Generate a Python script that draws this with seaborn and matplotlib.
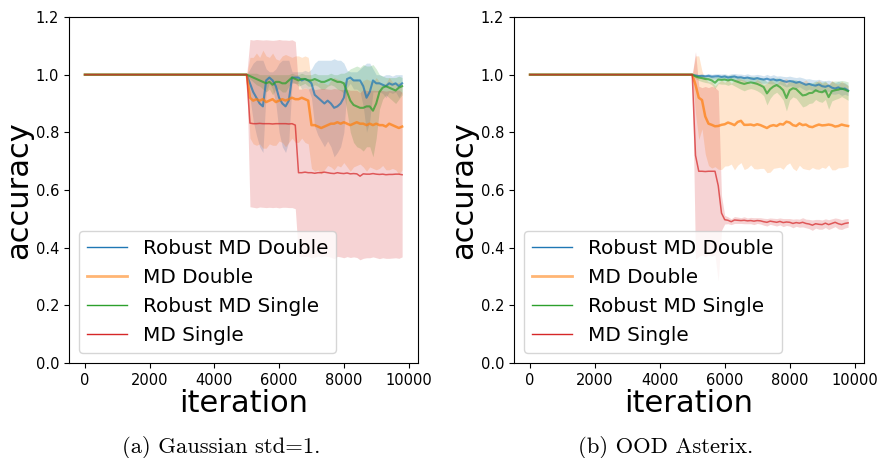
import numpy as np
import matplotlib
matplotlib.use("Agg")
import matplotlib.pyplot as plt
from matplotlib.lines import Line2D
import seaborn as sns

# ---------------- data ----------------
# iteration grid: start point, then every 100 iterations from 5000 to 9800
iterations = np.concatenate([[0], np.arange(5000, 9801, 100)])

series_names = ["Robust MD Double", "MD Double", "Robust MD Single", "MD Single"]
series_colors = ["#1f77b4", "#ff7f0e", "#2ca02c", "#d62728"]

# ---- (a) Gaussian std=1. : mean accuracy ----
a_robust_double = [1.0, 1.0,
    0.97, 0.94, 0.92, 0.90, 0.89, 0.98, 0.99, 0.98, 0.96, 0.92,
    0.90, 0.89, 0.91, 0.99, 0.99, 0.99, 0.98, 0.985, 0.98, 0.97,
    0.93, 0.92, 0.91, 0.90, 0.91, 0.90, 0.885, 0.89, 0.90, 0.92,
    0.985, 0.99, 0.98, 0.98, 0.98, 0.96, 0.92, 0.94, 0.98, 0.97,
    0.97, 0.965, 0.96, 0.97, 0.965, 0.97, 0.96, 0.97]
a_md_double = [1.0, 1.0,
    0.92, 0.91, 0.915, 0.91, 0.915, 0.905, 0.91, 0.915, 0.905, 0.91,
    0.915, 0.91, 0.915, 0.92, 0.915, 0.915, 0.92, 0.915, 0.91, 0.825,
    0.825, 0.82, 0.815, 0.82, 0.825, 0.83, 0.83, 0.835, 0.83, 0.835,
    0.83, 0.825, 0.83, 0.835, 0.83, 0.83, 0.825, 0.83, 0.825, 0.83,
    0.825, 0.825, 0.82, 0.83, 0.825, 0.82, 0.815, 0.82]
a_robust_single = [1.0, 1.0,
    0.995, 0.99, 0.985, 0.98, 0.975, 0.97, 0.975, 0.965, 0.975, 0.975,
    0.97, 0.97, 0.98, 0.99, 0.985, 0.98, 0.985, 0.985, 0.98, 0.98,
    0.985, 0.98, 0.975, 0.975, 0.98, 0.985, 0.98, 0.975, 0.975, 0.97,
    0.94, 0.91, 0.895, 0.89, 0.885, 0.885, 0.89, 0.89, 0.875, 0.90,
    0.94, 0.955, 0.96, 0.955, 0.95, 0.945, 0.955, 0.96]
a_md_single = [1.0, 1.0,
    0.832, 0.83, 0.83, 0.831, 0.83, 0.83, 0.83, 0.829, 0.83, 0.83,
    0.83, 0.83, 0.829, 0.83, 0.825, 0.66, 0.66, 0.662, 0.66, 0.66,
    0.658, 0.66, 0.66, 0.662, 0.66, 0.658, 0.657, 0.66, 0.658, 0.657,
    0.659, 0.656, 0.657, 0.656, 0.648, 0.656, 0.655, 0.655, 0.657, 0.655,
    0.654, 0.655, 0.653, 0.654, 0.654, 0.655, 0.655, 0.653]

# ---- (a) spread (half width of shaded band) ----
a_robust_double_sd = [0, 0,
    0.05, 0.10, 0.13, 0.15, 0.16, 0.04, 0.02, 0.03, 0.06, 0.12,
    0.15, 0.16, 0.14, 0.02, 0.02, 0.02, 0.03, 0.03, 0.03, 0.05,
    0.11, 0.13, 0.14, 0.15, 0.14, 0.15, 0.17, 0.16, 0.15, 0.12,
    0.03, 0.02, 0.03, 0.03, 0.04, 0.07, 0.12, 0.10, 0.04, 0.03,
    0.03, 0.03, 0.04, 0.03, 0.03, 0.03, 0.04, 0.03]
a_md_double_sd = [0, 0,
    0.14, 0.15, 0.16, 0.15, 0.17, 0.16, 0.15, 0.16, 0.15, 0.14,
    0.15, 0.16, 0.15, 0.14, 0.15, 0.15, 0.14, 0.15, 0.15, 0.15,
    0.16, 0.15, 0.16, 0.15, 0.14, 0.15, 0.16, 0.15, 0.15, 0.14,
    0.15, 0.16, 0.15, 0.15, 0.14, 0.15, 0.16, 0.15, 0.15, 0.16,
    0.15, 0.14, 0.15, 0.16, 0.15, 0.15, 0.16, 0.15]
a_robust_single_sd = [0, 0,
    0.01, 0.015, 0.02, 0.02, 0.025, 0.03, 0.025, 0.035, 0.025, 0.025,
    0.03, 0.03, 0.02, 0.015, 0.015, 0.02, 0.02, 0.015, 0.02, 0.02,
    0.02, 0.02, 0.025, 0.025, 0.02, 0.02, 0.02, 0.025, 0.03, 0.035,
    0.07, 0.11, 0.13, 0.14, 0.14, 0.15, 0.14, 0.14, 0.16, 0.12,
    0.06, 0.04, 0.03, 0.035, 0.04, 0.045, 0.04, 0.03]
a_md_single_sd = [0, 0,
    0.29, 0.29, 0.292, 0.29, 0.29, 0.291, 0.29, 0.29, 0.29, 0.292,
    0.29, 0.29, 0.29, 0.291, 0.29, 0.29, 0.29, 0.292, 0.29, 0.295,
    0.29, 0.29, 0.292, 0.29, 0.29, 0.291, 0.295, 0.29, 0.29, 0.292,
    0.29, 0.29, 0.289, 0.29, 0.29, 0.293, 0.29, 0.29, 0.289, 0.29,
    0.292, 0.29, 0.29, 0.291, 0.29, 0.29, 0.292, 0.285]

# ---- (b) OOD Asterix. : mean accuracy ----
b_robust_double = [1.0, 1.0,
    0.997, 0.995, 0.996, 0.994, 0.996, 0.993, 0.994, 0.995, 0.992, 0.994,
    0.99, 0.992, 0.994, 0.99, 0.991, 0.988, 0.99, 0.987, 0.985, 0.988,
    0.985, 0.983, 0.986, 0.982, 0.984, 0.98, 0.982, 0.978, 0.975, 0.978,
    0.976, 0.972, 0.975, 0.97, 0.965, 0.968, 0.964, 0.962, 0.966, 0.96,
    0.958, 0.962, 0.955, 0.952, 0.956, 0.95, 0.952, 0.945]
b_md_double = [1.0, 1.0,
    0.965, 0.92, 0.912, 0.855, 0.83, 0.826, 0.821, 0.822, 0.826, 0.828,
    0.834, 0.83, 0.825, 0.836, 0.84, 0.826, 0.826, 0.827, 0.824, 0.828,
    0.825, 0.82, 0.815, 0.822, 0.825, 0.822, 0.829, 0.827, 0.837, 0.834,
    0.825, 0.822, 0.831, 0.825, 0.827, 0.82, 0.818, 0.823, 0.827, 0.824,
    0.825, 0.827, 0.825, 0.82, 0.822, 0.827, 0.824, 0.822]
b_robust_single = [1.0, 1.0,
    0.994, 0.99, 0.988, 0.985, 0.984, 0.98, 0.972, 0.983, 0.982, 0.983,
    0.98, 0.983, 0.979, 0.975, 0.971, 0.968, 0.971, 0.973, 0.971, 0.968,
    0.963, 0.957, 0.935, 0.95, 0.959, 0.964, 0.957, 0.946, 0.919, 0.946,
    0.953, 0.95, 0.939, 0.928, 0.93, 0.936, 0.937, 0.946, 0.941, 0.939,
    0.946, 0.922, 0.943, 0.946, 0.948, 0.952, 0.948, 0.943]
b_md_single = [1.0, 1.0,
    0.72, 0.665, 0.665, 0.664, 0.665, 0.665, 0.665, 0.615, 0.52, 0.497,
    0.495, 0.49, 0.496, 0.495, 0.494, 0.495, 0.493, 0.494, 0.492, 0.494,
    0.493, 0.49, 0.488, 0.492, 0.49, 0.488, 0.491, 0.487, 0.489, 0.488,
    0.484, 0.487, 0.485, 0.488, 0.484, 0.482, 0.478, 0.483, 0.481, 0.48,
    0.485, 0.48, 0.484, 0.488, 0.483, 0.48, 0.484, 0.486]

# ---- (b) spread ----
b_robust_double_sd = [0, 0,
    0.005, 0.006, 0.006, 0.007, 0.008, 0.008, 0.009, 0.008, 0.01, 0.009,
    0.01, 0.011, 0.01, 0.012, 0.011, 0.012, 0.013, 0.012, 0.014, 0.013,
    0.014, 0.013, 0.015, 0.014, 0.016, 0.015, 0.014, 0.016, 0.018, 0.017,
    0.016, 0.018, 0.017, 0.019, 0.02, 0.018, 0.019, 0.02, 0.018, 0.02,
    0.021, 0.019, 0.022, 0.02, 0.021, 0.022, 0.02, 0.018]
b_md_double_sd = [0, 0,
    0.10, 0.145, 0.10, 0.13, 0.145, 0.15, 0.14, 0.15, 0.155, 0.145,
    0.15, 0.14, 0.155, 0.15, 0.145, 0.155, 0.15, 0.14, 0.15, 0.155,
    0.15, 0.145, 0.155, 0.16, 0.15, 0.145, 0.15, 0.155, 0.15, 0.14,
    0.15, 0.155, 0.145, 0.15, 0.155, 0.15, 0.14, 0.15, 0.155, 0.145,
    0.15, 0.14, 0.155, 0.15, 0.145, 0.15, 0.145, 0.14]
b_robust_single_sd = [0, 0,
    0.008, 0.01, 0.012, 0.012, 0.013, 0.015, 0.02, 0.014, 0.015, 0.016,
    0.017, 0.016, 0.018, 0.02, 0.022, 0.024, 0.022, 0.021, 0.022, 0.024,
    0.026, 0.03, 0.04, 0.032, 0.027, 0.025, 0.03, 0.034, 0.045, 0.034,
    0.03, 0.032, 0.036, 0.04, 0.038, 0.036, 0.035, 0.032, 0.034, 0.035,
    0.032, 0.042, 0.034, 0.032, 0.03, 0.028, 0.03, 0.032]
b_md_single_sd = [0, 0,
    0.36, 0.295, 0.29, 0.295, 0.29, 0.295, 0.29, 0.33, 0.06, 0.015,
    0.012, 0.01, 0.012, 0.011, 0.01, 0.012, 0.01, 0.011, 0.012, 0.01,
    0.011, 0.012, 0.013, 0.011, 0.012, 0.013, 0.012, 0.014, 0.012, 0.013,
    0.015, 0.013, 0.014, 0.016, 0.015, 0.016, 0.018, 0.015, 0.017, 0.016,
    0.015, 0.017, 0.016, 0.015, 0.018, 0.017, 0.016, 0.015]

panels = [
    ("(a) Gaussian std=1.",
     [a_robust_double, a_md_double, a_robust_single, a_md_single],
     [a_robust_double_sd, a_md_double_sd, a_robust_single_sd, a_md_single_sd]),
    ("(b) OOD Asterix.",
     [b_robust_double, b_md_double, b_robust_single, b_md_single],
     [b_robust_double_sd, b_md_double_sd, b_robust_single_sd, b_md_single_sd]),
]

for _, means, sds in panels:
    for m, s in zip(means, sds):
        assert len(m) == len(iterations) and len(s) == len(iterations), (len(m), len(s))

# ---------------- figure ----------------
line_widths = [1.5, 1.8, 1.5, 1.1]
fig = plt.figure(figsize=(8.82, 4.58), dpi=100)
axes_rects = [[0.0782, 0.2074, 0.3957, 0.7555], [0.5828, 0.2074, 0.3968, 0.7555]]
caption_x = [0.2506, 0.755]

for (caption, means, sds), rect, cx in zip(panels, axes_rects, caption_x):
    ax = fig.add_axes(rect)
    for m, s, c in zip(means, sds, series_colors):
        m = np.asarray(m)
        s = np.asarray(s)
        ax.fill_between(iterations, m - s, m + s, color=c, alpha=0.2, linewidth=0)
    for m, c, lw in zip(means, series_colors, line_widths):
        sns.lineplot(x=iterations, y=np.asarray(m), ax=ax, color=c,
                     linewidth=lw, alpha=0.72, legend=False)
    ax.set_ylim(0, 1.2)
    ax.set_yticks([0.0, 0.2, 0.4, 0.6, 0.8, 1.0, 1.2])
    ax.set_xticks([0, 2000, 4000, 6000, 8000, 10000])
    ax.tick_params(labelsize=10.5)
    ax.set_xlabel("iteration", fontsize=22, labelpad=1)
    ax.set_ylabel("accuracy", fontsize=22, labelpad=2)
    handles = [
        Line2D([], [], color="#1f77b4", lw=1.0),
        Line2D([], [], color="#ffb574", lw=2.0),
        Line2D([], [], color="#2ca02c", lw=1.0),
        Line2D([], [], color="#d62728", lw=1.0),
    ]
    ax.legend(handles, series_names, loc="lower left", fontsize=14.4,
              labelspacing=0.5)
    fig.text(cx, 0.024, caption, ha="center", va="center",
             family="cmr10", fontsize=16.3)

fig.savefig("out.png", dpi=100)
